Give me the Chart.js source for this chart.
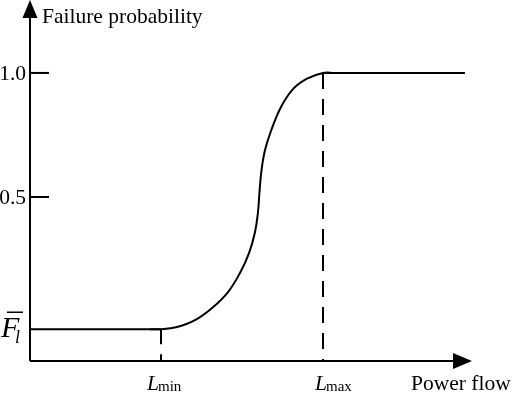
<!DOCTYPE html>
<html lang="en">
  <head>
    <meta charset="UTF-8" />
    <title>Failure probability vs power flow</title>
    <style>
      * {
        margin: 0;
        padding: 0;
        box-sizing: border-box;
      }
      body {
        background: #fff;
      }
    </style>
  </head>
  <body>
    <canvas id="myChart" width="512" height="393"></canvas>

    <script src="https://cdn.jsdelivr.net/npm/chart.js"></script>

    <script>
      // values (x in arbitrary power-flow units 0..100)
      const curveX = [0, 27.15, 29.64, 33.03, 37.33, 41.4, 44.8, 47.51, 49.55, 50.9, 51.58, 51.92, 52.38, 53.17, 54.52, 56.79, 59.5, 62.67, 66.29, 68.78, 98.4];
      const curveY = [-0.033, -0.033, -0.033, -0.025, 0.004, 0.056, 0.117, 0.194, 0.274, 0.358, 0.439, 0.52, 0.608, 0.689, 0.766, 0.863, 0.935, 0.977, 1.0, 1.0, 1.0];
      const Fl = -0.033;
      const Lmin = 29.64;
      const Lmax = 66.29;
      const tickValues = [0.5, 1.0];
      const tickLabels = ["0.5", "1.0"];
      const yMin = -0.161;
      const yMax = 1.294;

      const ctx = document.getElementById("myChart");

      const points = curveX.map((x, i) => ({ x: x, y: curveY[i] }));
      const n = points.length;

      const lineStyle = {
        borderColor: "#000",
        borderWidth: 2,
        pointRadius: 0,
        clip: false,
      };

      const axesPlugin = {
        id: "axesPlugin",
        afterDatasetsDraw(chart) {
          const {
            ctx,
            chartArea: { top, bottom, left, right },
            scales: { x, y },
          } = chart;
          ctx.save();
          ctx.strokeStyle = "#000";
          ctx.fillStyle = "#000";
          ctx.lineWidth = 2;

          // y axis + arrow
          ctx.beginPath();
          ctx.moveTo(left, bottom);
          ctx.lineTo(left, top + 16);
          ctx.stroke();
          ctx.beginPath();
          ctx.moveTo(left, top);
          ctx.lineTo(left - 7.5, top + 18);
          ctx.lineTo(left + 7.5, top + 18);
          ctx.closePath();
          ctx.fill();

          // x axis + arrow
          ctx.beginPath();
          ctx.moveTo(left, bottom);
          ctx.lineTo(right - 17, bottom);
          ctx.stroke();
          ctx.beginPath();
          ctx.moveTo(right, bottom);
          ctx.lineTo(right - 19, bottom - 8);
          ctx.lineTo(right - 19, bottom + 8);
          ctx.closePath();
          ctx.fill();

          // ticks on y axis
          ctx.font = "21.5px 'Liberation Serif'";
          ctx.textAlign = "right";
          ctx.textBaseline = "middle";
          tickValues.forEach((v, i) => {
            const py = y.getPixelForValue(v);
            ctx.beginPath();
            ctx.moveTo(left, py);
            ctx.lineTo(left + 19, py);
            ctx.stroke();
            ctx.fillText(tickLabels[i], left - 4, py + 1);
          });

          // axis titles
          ctx.textAlign = "left";
          ctx.textBaseline = "alphabetic";
          ctx.fillText("Failure probability", left + 12, top + 23);
          ctx.fillText("Power flow", 411, 390);

          // F bar l label
          const fy = y.getPixelForValue(Fl);
          ctx.font = "italic 30px 'Liberation Serif'";
          ctx.fillText("F", 1, fy + 8);
          ctx.lineWidth = 1.5;
          ctx.beginPath();
          ctx.moveTo(7, fy - 17);
          ctx.lineTo(23, fy - 17);
          ctx.stroke();
          ctx.font = "italic 18px 'Liberation Serif'";
          ctx.fillText("l", 15, fy + 14);

          // L min / L max labels
          const drawL = (val, sub, dx) => {
            const px = x.getPixelForValue(val) + dx;
            ctx.font = "italic 21.5px 'Liberation Serif'";
            ctx.fillText("L", px, 390);
            const w = ctx.measureText("L").width;
            ctx.font = "15px 'Liberation Serif'";
            ctx.fillText(sub, px + w - 1, 391);
          };
          drawL(Lmin, "min", -14);
          drawL(Lmax, "max", -8);

          ctx.restore();
        },
      };

      const config = {
        type: "line",
        data: {
          datasets: [
            // flat part below L min
            { ...lineStyle, data: points.slice(0, 3), tension: 0 },
            // rising part between L min and L max
            { ...lineStyle, data: points.slice(1, n - 1), tension: 0.4 },
            // plateau above L max
            { ...lineStyle, data: points.slice(n - 3), tension: 0 },
            {
              ...lineStyle,
              data: [
                { x: Lmin, y: Fl },
                { x: Lmin, y: yMin },
              ],
              borderDash: [15, 10],
            },
            {
              ...lineStyle,
              data: [
                { x: Lmax, y: 1.0 },
                { x: Lmax, y: yMin },
              ],
              borderDash: [16, 10],
            },
          ],
        },
        options: {
          responsive: false,
          animation: false,
          layout: {
            padding: { left: 30, right: 40, top: 0, bottom: 32 },
          },
          plugins: {
            legend: { display: false },
            tooltip: { enabled: false },
          },
          scales: {
            x: { type: "linear", min: 0, max: 100, display: false },
            y: { type: "linear", min: yMin, max: yMax, display: false },
          },
        },
        plugins: [axesPlugin],
      };

      const myChart = new Chart(ctx, config);
    </script>
  </body>
</html>
